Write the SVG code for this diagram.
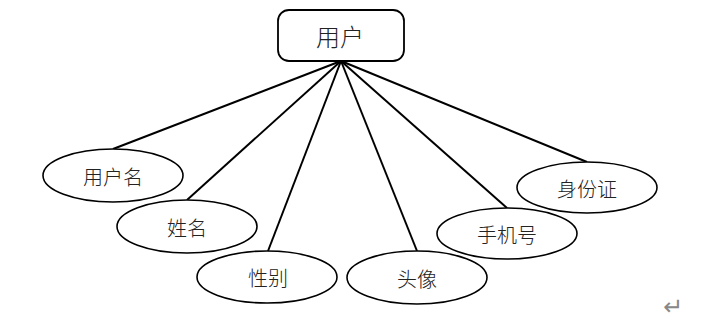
<svg xmlns="http://www.w3.org/2000/svg" width="711" height="327" viewBox="0 0 711 327">
<style>
.ent{fill:#fff;stroke:#000;stroke-width:1.8}
.attr{fill:#fff;stroke:#000;stroke-width:1.6}
.lbl{font-family:"Noto Sans CJK SC","Noto Sans",sans-serif;font-size:20px;font-weight:300;fill:#222;text-anchor:middle;dominant-baseline:central}
.con{stroke:#000;stroke-width:2;fill:none}
</style>
<rect width="711" height="327" fill="#fff"/>
<g id="connectors">
<line class="con" x1="341" y1="61" x2="113" y2="149"/>
<line class="con" x1="341" y1="61" x2="187" y2="200"/>
<line class="con" x1="341" y1="61" x2="268" y2="251"/>
<line class="con" x1="341" y1="61" x2="417" y2="251"/>
<line class="con" x1="341" y1="61" x2="507" y2="208"/>
<line class="con" x1="341" y1="61" x2="587" y2="162"/>
</g>
<g id="user">
<rect class="ent" x="278" y="10" width="126" height="51" rx="11"/>
<text class="lbl" x="340" y="35" style="font-size:24px">用户</text>
</g>
<g id="username">
<ellipse class="attr" cx="113" cy="175.5" rx="70" ry="26.5"/>
<text class="lbl" x="113" y="176">用户名</text>
</g>
<g id="name">
<ellipse class="attr" cx="187" cy="226.5" rx="70" ry="26.5"/>
<text class="lbl" x="187" y="227">姓名</text>
</g>
<g id="gender">
<ellipse class="attr" cx="267" cy="277" rx="70" ry="26"/>
<text class="lbl" x="268" y="277">性别</text>
</g>
<g id="avatar">
<ellipse class="attr" cx="417" cy="277.5" rx="70" ry="26.5"/>
<text class="lbl" x="417" y="278">头像</text>
</g>
<g id="phone">
<ellipse class="attr" cx="507" cy="233.5" rx="70" ry="25.5"/>
<text class="lbl" x="507" y="234">手机号</text>
</g>
<g id="idcard">
<ellipse class="attr" cx="587" cy="187.5" rx="70" ry="25.5"/>
<text class="lbl" x="587" y="188">身份证</text>
</g>
<text x="673" y="307" style="font-family:'DejaVu Sans',sans-serif;font-size:24px;fill:#888;text-anchor:middle;dominant-baseline:central">↵</text>
</svg>
